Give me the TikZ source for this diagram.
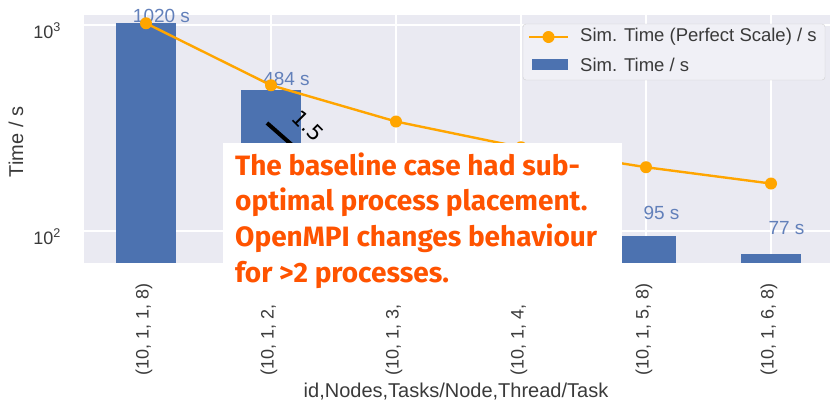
\documentclass[tikz,border=0pt]{standalone}
\usepackage{fontspec}
\setmainfont{Liberation Sans}
\newfontfamily\notefont{Fira Sans}
\newfontfamily\annfont{DejaVu Sans}
\usetikzlibrary{positioning}

\definecolor{sbblue}{HTML}{4C72B0}
\definecolor{sbbg}{HTML}{EAEAF2}
\definecolor{perforange}{HTML}{FFA500}
\definecolor{noteorange}{RGB}{255,83,0}
\definecolor{axisgray}{HTML}{3A3A3A}
\definecolor{vallabel}{RGB}{98,128,186}

\begin{document}
\begin{tikzpicture}[x=1pt,y=-1pt,
  declare function={ty(\v)=643-89.464*ln(\v);},
  gridline/.style={white,line width=1.3pt},
  ticklab/.style={text=axisgray,inner sep=0pt,font=\fontsize{18}{18}\selectfont},
  axislab/.style={text=axisgray,inner sep=0pt,font=\fontsize{20}{20}\selectfont},
  vallab/.style={text=vallabel,inner sep=0pt,anchor=base,font=\fontsize{19}{19}\selectfont},
  perfline/.style={perforange,line width=2.4pt},
  legtext/.style={text=axisgray,inner sep=0pt,anchor=west,font=\fontsize{18.5}{18.5}\selectfont},
  notetext/.style={text=noteorange,inner sep=0pt,anchor=base west,font=\notefont\bfseries\fontsize{28}{28}\selectfont}]
\useasboundingbox (0,0) rectangle (830,400);
% axes background and grid
\fill[sbbg] (83.5,15) rectangle (830,263);
\foreach \n in {1,...,6}
  \draw[gridline] ({21+125*\n},15) -- ({21+125*\n},263);
\foreach \e/\v in {3/1000,2/100} {
  \draw[gridline] (83.5,{ty(\v)}) -- (830,{ty(\v)});
  \node[ticklab,anchor=base east] (ytick\e) at (61,{ty(\v)+13}) {10\textsuperscript{\e}};
}
% measured times
\foreach \n/\v in {1/1020,2/484,5/95,6/77}
  \fill[sbblue] ({-9+125*\n},{ty(\v)}) rectangle ({51+125*\n},263);
\foreach \n/\v/\b in {1/1020/22,2/484/85,5/95/219,6/77/234}
  \node[vallab] (val\n) at ({36.5+125*\n},\b) {\v\ s};
% perfect scaling from the first run
\foreach \n in {1,...,6}
  \coordinate (p\n) at ({21+125*\n},{ty(1020/\n)});
\draw[perfline] (p1) -- (p2) -- (p3) -- (p4) -- (p5) -- (p6);
\foreach \n in {1,...,6}
  \fill[perforange] (p\n) circle (6);
% speedup mark
\draw[line width=4pt] (267,123) -- (300,152);
\node[rotate=-45,anchor=west,inner sep=0pt,font=\annfont\fontsize{21}{21}\selectfont] (speedup) at (296,114) {1.5};
% legend
\draw[draw=black!18,fill=sbbg!70!white,rounded corners=3pt] (523,24) rectangle (825,80);
\draw[perfline] (529,37) -- (568,37);
\fill[perforange] (548.5,37) circle (6);
\node[legtext] (leg1) at (580,37) {Sim. Time (Perfect Scale) / s};
\fill[sbblue] (532,59) rectangle (568,70);
\node[legtext] (leg2) at (580,65) {Sim. Time / s};
% axis labels
\foreach \n in {1,...,6}
  \node[ticklab,rotate=90,anchor=east] (xtick\n) at ({19+125*\n},283) {(10, 1, \n, 8)};
\node[axislab,anchor=base] (xlabel) at (456,397) {id,Nodes,Tasks/Node,Thread/Task};
\node[axislab,rotate=90] (ylabel) at (16,142) {Time / s};
% note on top
\fill[white] (223,143) rectangle (622,302);
\foreach \t [count=\k] in {The baseline case had sub-,optimal process placement.,OpenMPI changes behaviour,for >2 processes.}
  \node[notetext] (note\k) at (235,{175+35.7*(\k-1)}) {\t};
\end{tikzpicture}
\end{document}
